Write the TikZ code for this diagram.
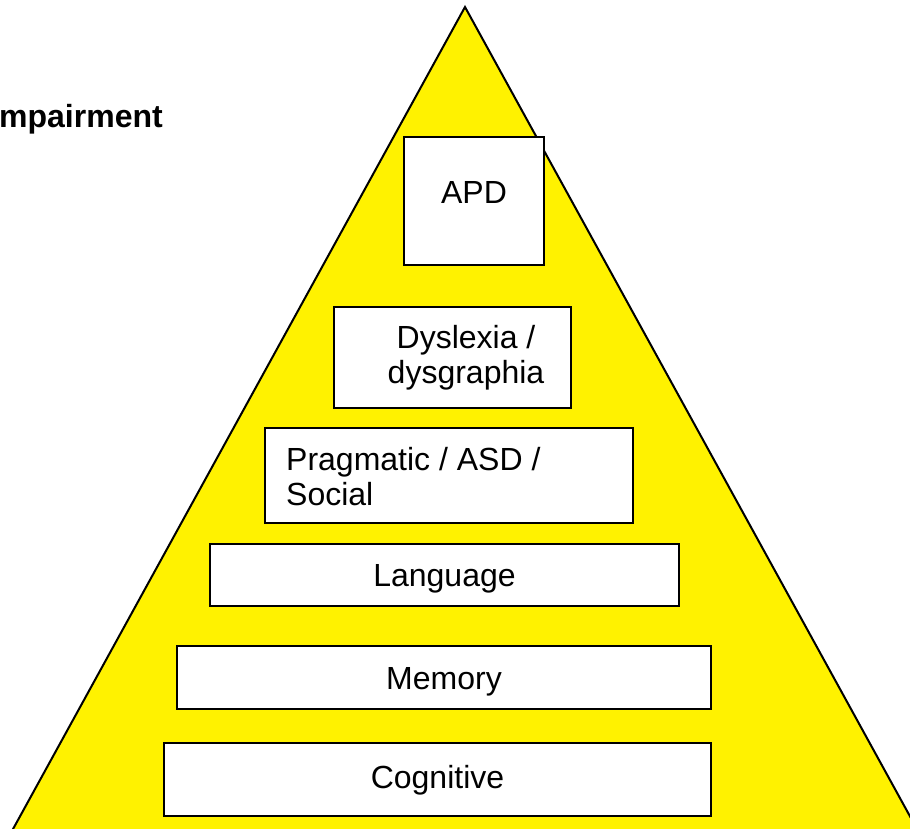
\documentclass[tikz,border=0pt]{standalone}
\usepackage{fontspec}
\setmainfont{Liberation Sans}

\begin{document}
\begin{tikzpicture}[x=1pt, y=-1pt]

\tikzset{tier/.style={draw=black, line width=2pt, fill=white, inner sep=0pt}}
\tikzset{tierlabel/.style={inner sep=0pt, font=\fontsize{32}{35}\selectfont}}

\useasboundingbox (0,0) rectangle (910,829);
\clip (0,0) rectangle (910,829);

% pyramid, its base runs past the bottom edge
\draw[fill=yellow, line width=2pt, line join=miter] (465,7) -- (923,840) -- (7,840) -- cycle;

\node[tierlabel, font=\bfseries\fontsize{32}{35}\selectfont, anchor=base west] (title) at (-1,128) {mpairment};

% tiers, top to bottom
\node[tier, minimum width=140, minimum height=128] (apd) at (474,201) {};
\node[tier, minimum width=237, minimum height=101] (dys) at (452.5,357.5) {};
\node[tier, minimum width=368, minimum height=95] (prag) at (449,475.75) {};
\node[tier, minimum width=469, minimum height=62] (lang) at (444.5,575) {};
\node[tier, minimum width=534, minimum height=63] (mem) at (444,677.5) {};
\node[tier, minimum width=547, minimum height=73] (cog) at (437.5,779.5) {};

% multi-line labels sit on the baseline of their last line
\node[tierlabel, anchor=base] (apd-label) at (474,204) {APD};
\node[tierlabel, anchor=base, align=center] (dys-label) at (466,383) {Dyslexia /\\dysgraphia};
\node[tierlabel, anchor=base west, align=left] (prag-label) at (286,505) {Pragmatic / ASD /\\Social};
\node[tierlabel, anchor=base] (lang-label) at (444.5,586) {Language};
\node[tierlabel, anchor=base] (mem-label) at (444,689) {Memory};
\node[tierlabel, anchor=base] (cog-label) at (437.5,788) {Cognitive};

\end{tikzpicture}
\end{document}
